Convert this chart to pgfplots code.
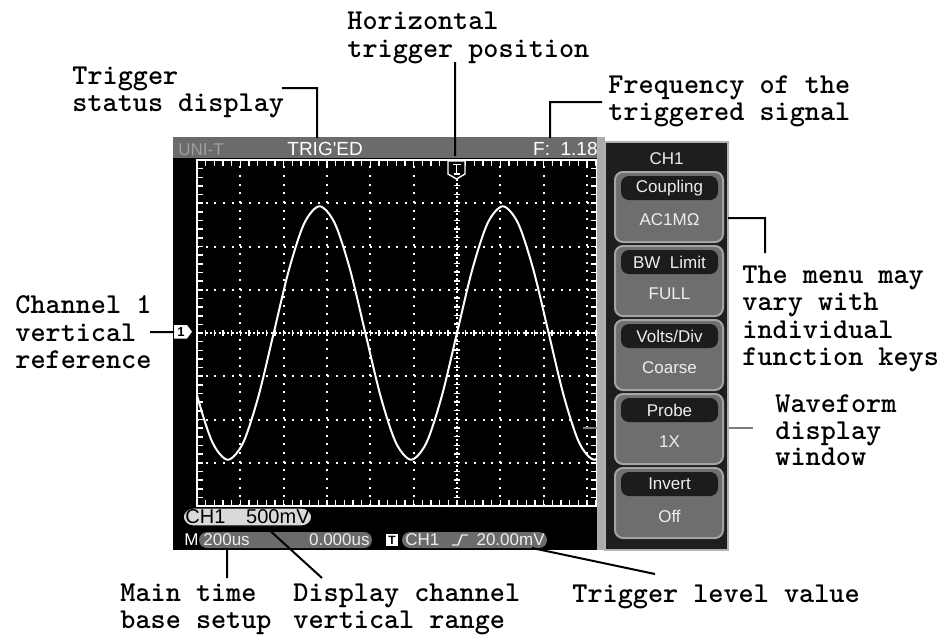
\documentclass[border=0pt]{standalone}
\usepackage{fontspec}
\usepackage{pgfplots}
\pgfplotsset{compat=1.18}
\usetikzlibrary{decorations.markings}
\newfontfamily\scrfont{Liberation Sans}
\newcommand\ann{\ttfamily\bfseries\fontsize{14.4pt}{16pt}\selectfont}
\newcommand\scr{\scrfont\fontsize{8.5pt}{10pt}\selectfont}

\definecolor{bar}{HTML}{6B6B6B}
\definecolor{btn}{HTML}{6E6E6E}
\definecolor{btnedge}{HTML}{A4A4A4}
\definecolor{pill}{HTML}{1C1C1C}
\definecolor{panel}{HTML}{1E1E1E}
\definecolor{scrtxt}{HTML}{EEEEEE}
\definecolor{lead}{HTML}{7A7A7A}

% one menu button, top edge at #1 (pixel units, y down)
\newcommand\menubtn[3]{%
  \draw[btnedge, fill=btn, line width=1pt, rounded corners=4] (615,#1) rectangle (723,#1+70);
  \fill[pill, rounded corners=4] (621,#1+4) rectangle (718,#1+28);
  \node[scrtxt, font=\scr] at (669.5,#1+16) {#2};
  \node[scrtxt, font=\scr] at (669.5,#1+48) {#3};
}
\tikzset{centreline/.style={white, line width=1pt, dash pattern=on 1pt off 1.17pt,
  postaction={decorate},
  decoration={markings, mark=between positions 0 and 1 step 4.33pt with
    {\draw[white, line width=0.7pt, solid] (0,-1.6pt) -- (0,1.6pt);}}}}

\begin{document}
\begin{tikzpicture}
\useasboundingbox (0,0) rectangle (473.5pt,-319.5pt);

\begin{scope}[x=0.5pt,y=-0.5pt]
\fill[black] (173,138) rectangle (600,550);
\fill[bar] (173,137) rectangle (600,158);
\node[anchor=base west, inner sep=0, font=\scr, text=gray!75] at (178,155) {UNI-T};
\node[anchor=base west, inner sep=0, font=\scrfont\fontsize{9.5pt}{10pt}\selectfont, text=white] at (287,155) {TRIG'ED};
\node[anchor=base east, inner sep=0, font=\scrfont\fontsize{9.5pt}{10pt}\selectfont, text=white] at (598,155) {F:\ \ 1.18};
\end{scope}

\begin{axis}[
  at={(98.5pt,-253pt)}, anchor=south west,
  scale only axis, width=200pt, height=173pt,
  xmin=-6, xmax=3.2308, ymin=-4, ymax=4,
  xtick={-5,...,3}, ytick={-3,...,3},
  minor xtick={-5.8,-5.6,...,3.2}, minor ytick={-3.8,-3.6,...,3.8},
  xticklabels={}, yticklabels={},
  tick align=inside,
  major tick length=3pt, minor tick length=3pt,
  every tick/.append style={white, line width=0.8pt},
  every minor tick/.append style={white, line width=0.8pt},
  axis line style={white, line width=0.8pt},
  grid=major,
  major grid style={white, line width=1pt, dash pattern=on 1pt off 3.33pt},
  axis background/.style={fill=black},
]
\addplot[white, line width=1pt, smooth] coordinates {
  (-6.345,0) (-5.9925,-1.465) (-5.64,-2.537) (-5.2875,-2.93) (-4.935,-2.537)
  (-4.5825,-1.465) (-4.23,0) (-3.8775,1.465) (-3.525,2.537) (-3.1725,2.93)
  (-2.82,2.537) (-2.4675,1.465) (-2.115,0) (-1.7625,-1.465) (-1.41,-2.537)
  (-1.0575,-2.93) (-0.705,-2.537) (-0.3525,-1.465) (0,0) (0.3525,1.465)
  (0.705,2.537) (1.0575,2.93) (1.41,2.537) (1.7625,1.465) (2.115,0)
  (2.4675,-1.465) (2.82,-2.537) (3.1725,-2.93) (3.525,-2.537)};
\end{axis}

\begin{scope}[x=0.5pt,y=-0.5pt]
% graticule centre lines
\draw[centreline] (456.7,506) -- (456.7,160);
\draw[centreline] (197,333) -- (597,333);
% trigger position marker
\draw[white, fill=black, line width=0.7pt] (448,161) -- (465,161) -- (465,174) -- (456.5,179) -- (448,174) -- cycle;
\draw[white, line width=0.8pt] (452.5,164.5) -- (460.5,164.5) (456.5,164.5) -- (456.5,174) (453.5,174) -- (459.5,174);
% channel 1 marker
\fill[white] (174,325) -- (187,325) -- (192,331.7) -- (187,338.5) -- (174,338.5) -- cycle;
\node[font=\scrfont\bfseries\fontsize{6.5pt}{7pt}\selectfont, inner sep=0] at (181,332) {1};

% bottom status lines
\draw[black, fill=gray!30, line width=0.6pt, rounded corners=5] (183,508) rectangle (312,526);
\node[anchor=base west, inner sep=0, font=\scrfont\fontsize{10pt}{12pt}\selectfont] at (185,523) {CH1};
\node[anchor=base east, inner sep=0, font=\scrfont\fontsize{10pt}{12pt}\selectfont] at (310,523) {500mV};
\node[anchor=base west, inner sep=0, font=\scr, text=white] at (184,545) {M};
\fill[bar, rounded corners=4] (199,532) rectangle (372,548);
\node[anchor=base west, inner sep=0, font=\scr, text=scrtxt] at (203,545) {200us};
\node[anchor=base east, inner sep=0, font=\scr, text=scrtxt] at (370,545) {0.000us};
\fill[white] (386,534) rectangle (398,546);
\node[inner sep=0, font=\scrfont\bfseries\fontsize{6pt}{7pt}\selectfont] at (392,540) {T};
\fill[bar, rounded corners=4] (402,532) rectangle (547,548);
\node[anchor=base west, inner sep=0, font=\scr, text=scrtxt] at (405,545) {CH1};
\draw[scrtxt, line width=0.7pt] (452,545) -- (458,545) -- (462,535) -- (468,535);
\node[anchor=base east, inner sep=0, font=\scr, text=scrtxt] at (545,545) {20.00mV};

% leader to waveform window, passes under the menu
\draw[lead, line width=1pt] (583,428) -- (753,428);

% strip and menu panel
\fill[gray!65] (597,137) rectangle (605,550);
\draw[gray!60, fill=panel, line width=1pt] (605,142) rectangle (728,550);
\node[scrtxt, font=\scr] at (666.5,159) {CH1};
\menubtn{172}{Coupling}{AC1MΩ}
\menubtn{246}{BW\ \ Limit}{FULL}
\menubtn{320}{Volts/Div}{Coarse}
\menubtn{394}{Probe}{1X}
\menubtn{468}{Invert}{Off}

% leaders
\draw[black, line width=1pt]
  (282,88) -- (317,88) -- (317,138)
  (455,62) -- (455,156)
  (602,102) -- (550,102) -- (550,138)
  (150,332) -- (174,332)
  (728,218) -- (765,218) -- (765,253)
  (227,548) -- (227,578)
  (266,527) -- (322,578)
  (532,548) -- (655,574);

% annotations
\tikzset{an/.style={anchor=base west, inner sep=0, font=\ann}}
\node[an] at (72,84) {Trigger};
\node[an] at (72,111) {status display};
\node[an] at (347,29) {Horizontal};
\node[an] at (347,57) {trigger position};
\node[an] at (608,93) {Frequency of the};
\node[an] at (608,120) {triggered signal};
\node[an] at (742,283) {The menu may};
\node[an] at (742,310) {vary with};
\node[an] at (742,338) {individual};
\node[an] at (742,365) {function keys};
\node[an] at (775,412) {Waveform};
\node[an] at (775,439) {display};
\node[an] at (775,465) {window};
\node[an] at (15,313) {Channel 1};
\node[an] at (15,341) {vertical};
\node[an] at (15,368) {reference};
\node[an] at (120,601) {Main time};
\node[an] at (120,628) {base setup};
\node[an] at (293,601) {Display channel};
\node[an] at (293,628) {vertical range};
\node[an] at (572,602) {Trigger level value};
\end{scope}
\end{tikzpicture}
\end{document}
